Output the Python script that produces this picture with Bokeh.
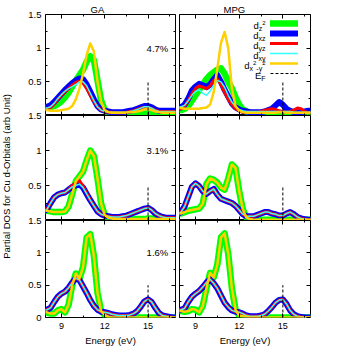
import math
from bokeh.plotting import figure
from bokeh.models import Range1d, FixedTicker, LinearAxis, Label, Legend, LegendItem
from bokeh.layouts import row, column
from bokeh.embed import file_html
from bokeh.resources import INLINE

# ---------------- data ----------------
energy = [7.75, 8.0, 8.25, 8.5, 8.75, 9.0, 9.25, 9.5, 9.75, 10.0, 10.25, 10.5, 10.75,
          11.0, 11.25, 11.5, 11.75, 12.0, 12.25, 12.5, 12.75, 13.0, 13.25, 13.5, 13.75,
          14.0, 14.25, 14.5, 14.75, 15.0, 15.25, 15.5, 15.75, 16.0, 16.25, 16.5, 16.75, 17.0]

fermi_energy = 15.0
fermi_marker_top = 0.5

x_major = [9, 12, 15]
x_minor = [7.5, 10.5, 13.5, 16.5]
y_major = [0, 0.5, 1.0, 1.5]
y_minor = [0.25, 0.75, 1.25]

methods = ["GA", "MPG"]
concentrations = ["4.7%", "3.1%", "1.6%"]
y_title = "Partial DOS for Cu d-Orbitals (arb Unit)"
x_title = "Energy (eV)"

# GA, 4.7 %
ga47_dz2 = [0.12, 0.12, 0.12, 0.14, 0.17, 0.21, 0.27, 0.34, 0.43, 0.52, 0.60, 0.68, 0.80, 0.88, 0.82, 0.52, 0.22, 0.08,
            0.04, 0.03, 0.02, 0.02, 0.02, 0.02, 0.02, 0.02, 0.02, 0.02, 0.03, 0.03, 0.03, 0.02, 0.02, 0.02, 0.02, 0.02, 0.02, 0.02]
ga47_dxz = [0.13, 0.13, 0.15, 0.20, 0.26, 0.32, 0.38, 0.43, 0.48, 0.52, 0.55, 0.54, 0.46, 0.35, 0.24, 0.14, 0.09, 0.07,
            0.06, 0.05, 0.05, 0.05, 0.05, 0.06, 0.07, 0.08, 0.10, 0.12, 0.14, 0.14, 0.12, 0.09, 0.07, 0.07, 0.07, 0.07, 0.07, 0.07]
ga47_dyz = [0.10, 0.10, 0.12, 0.17, 0.24, 0.30, 0.35, 0.40, 0.45, 0.49, 0.51, 0.48, 0.40, 0.30, 0.21, 0.13, 0.08, 0.06,
            0.05, 0.05, 0.04, 0.04, 0.04, 0.05, 0.06, 0.07, 0.09, 0.11, 0.12, 0.12, 0.10, 0.08, 0.06, 0.06, 0.06, 0.06, 0.06, 0.06]
ga47_dxy = [0.11, 0.11, 0.13, 0.18, 0.25, 0.31, 0.36, 0.40, 0.43, 0.46, 0.50, 0.50, 0.44, 0.33, 0.22, 0.13, 0.08, 0.06,
            0.05, 0.05, 0.05, 0.05, 0.05, 0.05, 0.06, 0.07, 0.09, 0.11, 0.13, 0.13, 0.11, 0.08, 0.06, 0.06, 0.06, 0.06, 0.06, 0.06]
ga47_dx2y2 = [0.09, 0.08, 0.07, 0.07, 0.07, 0.08, 0.09, 0.10, 0.14, 0.24, 0.40, 0.62, 0.90, 1.07, 0.95, 0.50, 0.20, 0.08,
              0.05, 0.04, 0.04, 0.04, 0.04, 0.04, 0.05, 0.05, 0.06, 0.07, 0.09, 0.10, 0.08, 0.06, 0.05, 0.04, 0.04, 0.04, 0.04, 0.04]

# MPG, 4.7 %
mpg47_dz2 = [0.08, 0.08, 0.10, 0.14, 0.22, 0.30, 0.38, 0.46, 0.54, 0.60, 0.64, 0.68, 0.70, 0.62, 0.50, 0.40, 0.27, 0.16,
             0.09, 0.06, 0.04, 0.03, 0.03, 0.03, 0.03, 0.03, 0.03, 0.03, 0.03, 0.03, 0.03, 0.03, 0.03, 0.03, 0.03, 0.03, 0.03, 0.03]
mpg47_dxz = [0.12, 0.12, 0.16, 0.25, 0.37, 0.43, 0.47, 0.45, 0.42, 0.46, 0.54, 0.60, 0.50, 0.38, 0.28, 0.18, 0.12, 0.09,
             0.07, 0.06, 0.05, 0.05, 0.05, 0.05, 0.06, 0.08, 0.10, 0.15, 0.20, 0.16, 0.10, 0.07, 0.05, 0.05, 0.05, 0.06, 0.07, 0.07]
mpg47_dyz = [0.10, 0.10, 0.14, 0.22, 0.32, 0.40, 0.44, 0.42, 0.40, 0.44, 0.52, 0.54, 0.46, 0.34, 0.24, 0.16, 0.10, 0.07,
             0.05, 0.05, 0.05, 0.05, 0.05, 0.06, 0.08, 0.09, 0.10, 0.09, 0.07, 0.06, 0.05, 0.06, 0.08, 0.11, 0.10, 0.06, 0.04, 0.04]
mpg47_dxy = [0.13, 0.13, 0.15, 0.22, 0.30, 0.36, 0.38, 0.33, 0.30, 0.36, 0.45, 0.52, 0.50, 0.42, 0.30, 0.20, 0.13, 0.09,
             0.07, 0.06, 0.06, 0.06, 0.06, 0.06, 0.06, 0.06, 0.06, 0.06, 0.06, 0.06, 0.06, 0.06, 0.05, 0.05, 0.05, 0.05, 0.05, 0.05]
mpg47_dx2y2 = [0.11, 0.11, 0.10, 0.10, 0.10, 0.10, 0.10, 0.11, 0.12, 0.16, 0.35, 0.70, 1.08, 1.24, 1.00, 0.40, 0.14, 0.07,
               0.05, 0.04, 0.04, 0.04, 0.04, 0.04, 0.04, 0.04, 0.04, 0.04, 0.05, 0.05, 0.04, 0.04, 0.04, 0.04, 0.04, 0.04, 0.04, 0.04]

# GA, 3.1 %
ga31_dz2 = [0.14, 0.14, 0.13, 0.12, 0.12, 0.12, 0.13, 0.20, 0.38, 0.56, 0.63, 0.70, 0.86, 1.00, 0.92, 0.60, 0.24, 0.08,
            0.04, 0.03, 0.02, 0.02, 0.02, 0.02, 0.02, 0.02, 0.02, 0.02, 0.02, 0.03, 0.03, 0.02, 0.02, 0.02, 0.02, 0.02, 0.02, 0.02]
ga31_dxz = [0.13, 0.16, 0.25, 0.33, 0.37, 0.39, 0.40, 0.44, 0.48, 0.50, 0.52, 0.47, 0.38, 0.29, 0.21, 0.13, 0.09, 0.07,
            0.06, 0.05, 0.05, 0.05, 0.06, 0.07, 0.09, 0.11, 0.13, 0.15, 0.17, 0.18, 0.15, 0.10, 0.07, 0.05, 0.04, 0.04, 0.04, 0.04]
ga31_dyz = [0.13, 0.16, 0.25, 0.33, 0.37, 0.39, 0.40, 0.44, 0.50, 0.54, 0.57, 0.49, 0.39, 0.29, 0.21, 0.13, 0.09, 0.07,
            0.06, 0.05, 0.05, 0.05, 0.06, 0.07, 0.09, 0.11, 0.13, 0.15, 0.17, 0.18, 0.15, 0.10, 0.07, 0.05, 0.04, 0.04, 0.04, 0.04]
ga31_dxy = ga31_dxz
ga31_dx2y2 = ga31_dz2

# MPG, 3.1 %
mpg31_dz2 = [0.10, 0.10, 0.12, 0.14, 0.15, 0.16, 0.17, 0.24, 0.52, 0.60, 0.58, 0.54, 0.47, 0.44, 0.60, 0.80, 0.75, 0.42,
             0.16, 0.04, 0.02, 0.01, 0.01, 0.01, 0.01, 0.01, 0.01, 0.01, 0.01, 0.01, 0.01, 0.01, 0.01, 0.01, 0.01, 0.01, 0.01, 0.01]
mpg31_dxz = [0.09, 0.12, 0.20, 0.34, 0.48, 0.53, 0.49, 0.42, 0.38, 0.42, 0.45, 0.37, 0.31, 0.29, 0.27, 0.25, 0.21, 0.15,
             0.09, 0.06, 0.06, 0.06, 0.08, 0.10, 0.12, 0.12, 0.10, 0.09, 0.07, 0.07, 0.10, 0.12, 0.09, 0.05, 0.03, 0.02, 0.01, 0.01]
mpg31_dyz = mpg31_dxz
mpg31_dxy = mpg31_dxz
mpg31_dx2y2 = mpg31_dz2

# GA, 1.6 %
ga16_dz2 = [0.09, 0.08, 0.06, 0.06, 0.11, 0.13, 0.08, 0.20, 0.50, 0.68, 0.60, 0.78, 1.24, 1.29, 0.95, 0.38, 0.10, 0.04,
            0.01, 0.00, 0.00, 0.00, 0.00, 0.00, 0.00, 0.00, 0.00, 0.00, 0.00, 0.00, 0.00, 0.00, 0.00, 0.00, 0.00, 0.00, 0.00, 0.00]
ga16_dxz = [0.11, 0.12, 0.15, 0.24, 0.32, 0.37, 0.40, 0.46, 0.54, 0.61, 0.58, 0.48, 0.38, 0.27, 0.18, 0.12, 0.09, 0.08,
            0.07, 0.05, 0.04, 0.03, 0.03, 0.03, 0.04, 0.06, 0.10, 0.17, 0.25, 0.28, 0.24, 0.15, 0.07, 0.03, 0.02, 0.01, 0.00, 0.00]
ga16_dyz = ga16_dxz
ga16_dxy = ga16_dxz
ga16_dx2y2 = ga16_dz2

# MPG, 1.6 %
mpg16_dz2 = [0.10, 0.10, 0.09, 0.10, 0.13, 0.12, 0.08, 0.18, 0.45, 0.69, 0.62, 0.82, 1.24, 1.30, 0.98, 0.45, 0.12, 0.03,
             0.02, 0.01, 0.00, 0.00, 0.00, 0.00, 0.00, 0.00, 0.00, 0.00, 0.00, 0.00, 0.00, 0.00, 0.00, 0.00, 0.00, 0.00, 0.00, 0.00]
mpg16_dxz = [0.11, 0.12, 0.14, 0.24, 0.32, 0.37, 0.41, 0.47, 0.54, 0.59, 0.53, 0.45, 0.34, 0.23, 0.16, 0.11, 0.09, 0.08,
             0.06, 0.03, 0.02, 0.02, 0.02, 0.03, 0.05, 0.10, 0.16, 0.23, 0.27, 0.28, 0.21, 0.11, 0.05, 0.02, 0.01, 0.00, 0.00, 0.00]
mpg16_dyz = mpg16_dxz
mpg16_dxy = mpg16_dxz
mpg16_dx2y2 = mpg16_dz2

panel_data = [
    [(ga47_dz2, ga47_dxz, ga47_dyz, ga47_dxy, ga47_dx2y2), (mpg47_dz2, mpg47_dxz, mpg47_dyz, mpg47_dxy, mpg47_dx2y2)],
    [(ga31_dz2, ga31_dxz, ga31_dyz, ga31_dxy, ga31_dx2y2), (mpg31_dz2, mpg31_dxz, mpg31_dyz, mpg31_dxy, mpg31_dx2y2)],
    [(ga16_dz2, ga16_dxz, ga16_dyz, ga16_dxy, ga16_dx2y2), (mpg16_dz2, mpg16_dxz, mpg16_dyz, mpg16_dxy, mpg16_dx2y2)],
]

# ---------------- styling ----------------
FONT = "Liberation Sans"
series_colors = ["#00ff00", "#0000ff", "#ff0000", "#33ffff", "#ffd000"]
series_widths = [6.5, 6.0, 3.0, 1.5, 2.5]

X_START, X_END = 7.9, 16.9
Y_START, Y_END = 0.0, 1.5
STRIP_W = 12
TOTAL_H = 349
ROW_GEOM = [(14, 101, 0), (6, 105, 0), (6, 99, 29)]   # top border, frame height, bottom border
COL_GEOM = [(33, 130, 2), (2, 131, 40)]              # left border, frame width, right border
OVERLAP = 6

title_offset = [45, 44]
pct_x = 16.4
pct_y = 1.0

CHAR_W = {"d": 0.556, "z": 0.5, "x": 0.5, "y": 0.5, "2": 0.556, "-": 0.333, "E": 0.667, "F": 0.611}

legend_rows = [
    [("d", 9.5, 1.5), ("z", 7, 4.5), ("2", 6, -1)],
    [("d", 9.5, 1.5), ("xz", 7, 4.5)],
    [("d", 9.5, 1.5), ("yz", 7, 4.5)],
    [("d", 9.5, 1.5), ("xy", 7, 4.5)],
    [("d", 9.5, 1.5), ("x", 7, 4.5), ("2", 6, -1), ("-y", 7, 4.5), ("2", 6, -1)],
    [("E", 9.5, 1.5), ("F", 7, 4.5)],
]


def text_w(t, s):
    return sum(CHAR_W.get(ch, 0.55) for ch in t) * s


def make_panel(r, c):
    tb, fh, bb = ROW_GEOM[r]
    lb, fw, rb = COL_GEOM[c]
    p = figure(width=lb + fw + rb, height=tb + fh + bb,
               min_border_left=lb, min_border_right=rb, min_border_top=tb, min_border_bottom=bb,
               x_range=Range1d(X_START, X_END), y_range=Range1d(Y_START, Y_END),
               output_backend="svg", toolbar_location=None, tools="")
    p.border_fill_alpha = 0
    p.background_fill_color = "white"
    p.outline_line_color = "black"
    p.outline_line_width = 1
    p.outline_line_alpha = 1
    p.grid.visible = False
    if r == 0:
        p.title.text = methods[c]
        p.title.align = "left"
        p.title.offset = title_offset[c]
        p.title.standoff = 0
        p.title.text_font = FONT
        p.title.text_font_size = "9.5px"
        p.title.text_font_style = "normal"
        p.title.text_color = "black"
    p.add_layout(LinearAxis(), "above")
    p.add_layout(LinearAxis(), "right")
    for ax in p.xaxis:
        ax.ticker = FixedTicker(ticks=x_major, minor_ticks=x_minor)
    for ax in p.yaxis:
        ax.ticker = FixedTicker(ticks=y_major, minor_ticks=y_minor)
    for ax in p.axis:
        ax.axis_line_color = None
        ax.major_tick_in = 4
        ax.major_tick_out = 0
        ax.minor_tick_in = 2
        ax.minor_tick_out = 0
        ax.major_tick_line_color = "black"
        ax.minor_tick_line_color = "black"
        ax.major_label_text_color = None
        ax.major_label_standoff = 0
        ax.major_label_text_font = FONT
        ax.major_label_text_font_size = "9px"
    if r == 2:
        ax = p.below[0]
        ax.major_label_text_color = "black"
        ax.major_label_text_font_size = "9px"
        ax.major_label_standoff = 5
        ax.axis_label = x_title
        ax.axis_label_text_font = FONT
        ax.axis_label_text_font_size = "9.5px"
        ax.axis_label_text_font_style = "normal"
        ax.axis_label_standoff = 3
        ax.axis_label_text_color = "black"
    if c == 0:
        ax = p.left[0]
        ax.major_label_text_color = "black"
        ax.major_label_text_font_size = "9.5px"
        ax.major_label_standoff = 4
        if r < 2:
            ax.major_label_overrides = {0: ""}

    rends = []
    for ys, col, lw in zip(panel_data[r][c], series_colors, series_widths):
        rends.append(p.line(energy, ys, line_color=col, line_width=lw,
                            line_join="round", line_cap="round"))
    ef = p.segment(x0=[fermi_energy], y0=[0], x1=[fermi_energy], y1=[fermi_marker_top],
                   line_color="black", line_width=1, line_dash="3 2")
    rends.append(ef)

    px_y = (Y_END - Y_START) / fh
    if c == 0:
        p.add_layout(Label(x=pct_x, y=pct_y, text=concentrations[r], text_align="right",
                           text_baseline="middle", text_font=FONT, text_font_size="9.5px",
                           text_color="black"))
    if r == 0 and c == 1:
        items = [LegendItem(label=" ", renderers=[rr]) for rr in rends]
        leg = Legend(items=items, location=(91, fh - 64), orientation="vertical",
                     glyph_width=28, glyph_height=10, label_height=10, label_width=0,
                     label_standoff=0, spacing=0, padding=0, margin=0,
                     border_line_alpha=0, background_fill_alpha=0,
                     label_text_font_size="8px")
        p.add_layout(leg)
        px_x = (X_END - X_START) / fw
        anchor_x = X_START + 86 * px_x
        for i, pieces in enumerate(legend_rows):
            row_y = Y_END - (9 + 10 * i) * px_y
            total = sum(text_w(t, s) for t, s, _ in pieces)
            off = -total
            for t, s, dy in pieces:
                p.add_layout(Label(x=anchor_x, y=row_y - dy * px_y, x_offset=off, text=t,
                                   text_align="left", text_baseline="alphabetic",
                                   text_font=FONT, text_font_size=f"{s}px", text_color="black"))
                off += text_w(t, s)
    return p


figs = [[make_panel(r, c) for c in range(2)] for r in range(3)]
rows = []
for r in range(3):
    if r == 0:
        rows.append(row(figs[r][0], figs[r][1], spacing=0))
    else:
        rows.append(row(figs[r][0], figs[r][1], spacing=0, margin=(-OVERLAP, 0, 0, 0)))
grid = column(*rows, spacing=0)

# narrow strip carrying the shared y-axis title
strip = figure(width=STRIP_W, height=TOTAL_H, x_range=Range1d(0, 1), y_range=Range1d(0, 1),
               min_border=0, x_axis_location=None, y_axis_location=None,
               output_backend="svg", toolbar_location=None, tools="")
strip.outline_line_color = None
strip.grid.visible = False
strip.border_fill_alpha = 0
strip.background_fill_alpha = 0
strip.add_layout(Label(x=0.5, y=1 - 176 / TOTAL_H, text=y_title, angle=math.pi / 2,
                       text_align="center", text_baseline="middle",
                       text_font=FONT, text_font_size="9.5px", text_color="black"))

layout = row(strip, grid, spacing=0)

open("out.html", "w").write(file_html(layout, INLINE, "Partial DOS"))
